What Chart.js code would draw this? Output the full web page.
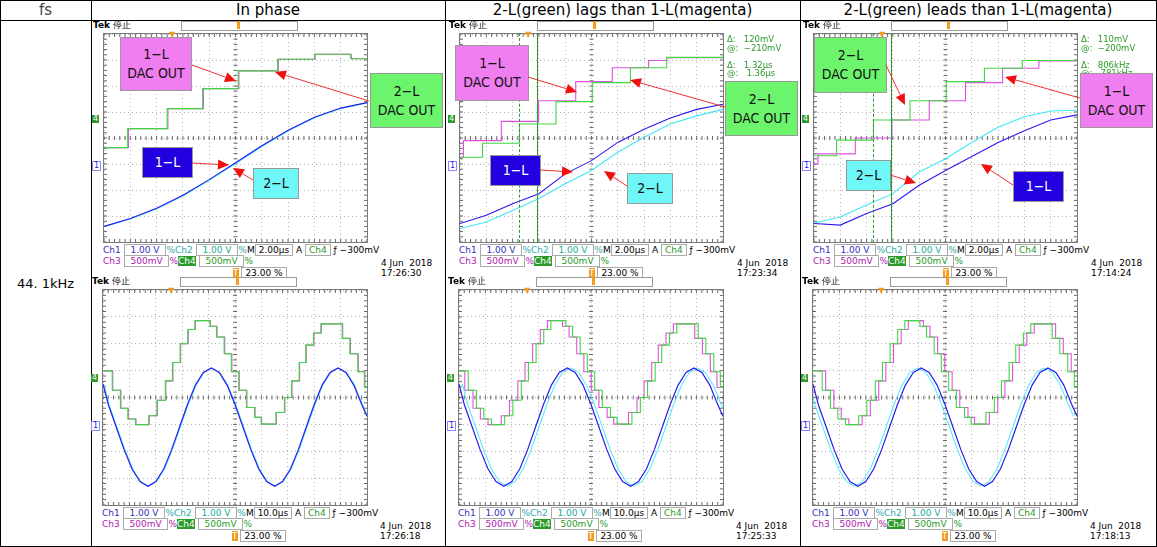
<!DOCTYPE html>
<html>
<head>
<meta charset="utf-8">
<script src="https://cdn.jsdelivr.net/npm/chart.js@4.4.1/dist/chart.umd.min.js"></script>
<style>
  body { margin: 0; background: #fff; font-family: "DejaVu Sans", sans-serif; }
  #page { position: relative; width: 1157px; height: 547px; overflow: hidden; }
  .t { position: absolute; white-space: pre; line-height: 1; }
  .ln { position: absolute; background: #000; }
  .frame { position: absolute; border: 1px solid #7a7a7a; box-sizing: border-box; }
  .lbl { position: absolute; border: 1px solid #999; box-sizing: border-box; display: flex;
         align-items: center; justify-content: center; text-align: center; font-size: 14px; line-height: 1.35; color: #111;
         font-family: "DejaVu Sans Condensed", "DejaVu Sans", sans-serif; }
  .ro { position: absolute; font-size: 9px; white-space: pre; line-height: 1; }
  .box { border: 1px solid #aaa; padding: 0 3px; }
</style>
</head>
<body>
<div id="page"></div>
<script>
// grid divisions: x 0..10, y -4..4
const divX = [0, 1, 2, 3, 4, 5, 6, 7, 8, 9, 10];

// top row, 2.00us/div
const phaseStepX = [0, 0.9, 2.4, 3.75, 5.1, 6.6, 8.0, 9.37, 10];
const phaseStepY = [-0.37, 0.36, 1.13, 1.9, 2.58, 3.03, 3.22, 3.05, 3.05];
const phaseBlueY = [-3.4, -3.1, -2.7, -2.2, -1.6, -0.95, -0.3, 0.3, 0.8, 1.15, 1.36];

const lagMagX = [0, 0.13, 1.57, 2.99, 4.4, 5.79, 7.17, 7.86, 10];
const lagMagY = [-0.74, -0.1, 0.64, 1.43, 2.17, 2.7, 2.98, 3.09, 3.09];
const lagGrnX = [0, 0.86, 2.26, 3.65, 5.03, 6.48, 7.86, 10];
const lagGrnY = [-0.74, -0.2, 0.54, 1.4, 2.13, 2.7, 3.1, 3.1];
const lagBlueY = [-3.29, -2.97, -2.53, -2.14, -1.38, -0.87, -0.17, 0.34, 0.77, 1.1, 1.3];
const lagCyanY = [-3.48, -3.23, -2.79, -2.33, -1.76, -1.25, -0.55, 0.03, 0.54, 0.85, 1.1];

const leadGrnX = [0, 0.86, 2.26, 3.65, 5.03, 6.48, 7.92, 10];
const leadGrnY = [-0.68, -0.08, 0.69, 1.43, 2.17, 2.68, 2.98, 2.98];
const leadMagX = [0, 0.15, 1.57, 2.96, 4.38, 5.76, 7.17, 8.55, 10];
const leadMagY = [-1.0, -0.61, 0, 0.69, 1.43, 2.13, 2.68, 2.96, 2.96];
const leadBlueY = [-3.29, -3.35, -2.9, -2.53, -1.82, -1.25, -0.71, -0.17, 0.28, 0.69, 0.89];
const leadCyanY = [-3.27, -3.04, -2.58, -2.14, -1.31, -0.8, -0.17, 0.41, 0.82, 1.04, 1.07];

// bottom row, 10.0us/div
const sineX = [0, 0.2, 0.5, 0.8, 1.1, 1.4, 1.7, 2.0, 2.3, 2.6, 2.9, 3.2, 3.5, 3.8, 4.1, 4.4, 4.7, 5.0,
  5.3, 5.6, 5.9, 6.2, 6.5, 6.8, 7.1, 7.4, 7.7, 8.0, 8.3, 8.6, 8.9, 9.2, 9.5, 9.8, 10];
const sineY = [0.5, -0.26, -1.1, -1.94, -2.66, -3.13, -3.3, -3.13, -2.66, -1.94, -1.1, -0.26, 0.46, 0.93, 1.1, 0.93, 0.46,
  -0.26, -1.1, -1.94, -2.66, -3.13, -3.3, -3.13, -2.66, -1.94, -1.1, -0.26, 0.46, 0.93, 1.1, 0.93, 0.46, -0.26, -0.7];
const dacX = [0, 0.35, 0.66, 0.94, 1.23, 1.73, 2.04, 2.36, 2.63, 2.92, 3.21, 3.48, 4.05, 4.3, 4.59, 4.86,
  5.14, 5.43, 5.74, 5.99, 6.55, 6.87, 7.14, 7.43, 7.68, 7.97, 8.25, 9.06, 9.35, 9.65, 9.9, 10];
const dacY = [0.99, 0.27, -0.4, -0.8, -1.01, -0.68, -0.1, 0.62, 1.3, 2.0, 2.53, 2.86, 2.65, 2.25, 1.63, 0.96,
  0.27, -0.37, -0.74, -0.99, -0.56, 0, 0.62, 1.3, 1.95, 2.4, 2.74, 2.2, 1.63, 0.96, 0.37, 0.37];
// measured phase offsets in divisions (bottom row): [magenta, cyan] relative to green/blue
const lagOffsets = [[0.02, 0.03], [-0.13, 0.13], [0.13, -0.13]];

const BLUE = '#2a1af0', CYAN = '#40e8f2', GREEN = '#40d840', MAG = '#e050e0';
const page = document.getElementById('page');

function el(cls, x, y, html, style) {
  const d = document.createElement('div');
  d.className = cls;
  d.style.left = x + 'px'; d.style.top = y + 'px';
  d.innerHTML = html;
  if (style) Object.assign(d.style, style);
  page.appendChild(d);
  return d;
}
function pts(xs, ys, dx) {
  return xs.map((x, i) => ({ x: x + (dx || 0), y: ys[i] }));
}
function line(data, color, stepped, width) {
  return { data: data, borderColor: color, borderWidth: width || 1.1, pointRadius: 0,
           stepped: stepped ? 'before' : false, tension: 0 };
}

const crossPlugin = {
  id: 'cross',
  beforeDatasetsDraw(chart) {
    const { ctx, chartArea: a, scales } = chart;
    const cx = scales.x.getPixelForValue(5), cy = scales.y.getPixelForValue(0);
    ctx.save();
    ctx.strokeStyle = '#666';
    ctx.lineWidth = 1;
    ctx.beginPath();
    for (let v = 0; v <= 10.001; v += 0.2) {
      const px = scales.x.getPixelForValue(v);
      ctx.moveTo(px, cy - 2); ctx.lineTo(px, cy + 2);
      ctx.moveTo(px, a.top); ctx.lineTo(px, a.top + 3);
      ctx.moveTo(px, a.bottom); ctx.lineTo(px, a.bottom - 3);
    }
    for (let v = -4; v <= 4.001; v += 0.2) {
      const py = scales.y.getPixelForValue(v);
      ctx.moveTo(cx - 2, py); ctx.lineTo(cx + 2, py);
      ctx.moveTo(a.left, py); ctx.lineTo(a.left + 3, py);
      ctx.moveTo(a.right, py); ctx.lineTo(a.right - 3, py);
    }
    ctx.stroke();
    ctx.restore();
  }
};

// datasets are listed top-most first (Chart.js paints index 0 last)
function scope(left, top, w, h, datasets, timebase, stamp, cursors) {
  const fr = el('frame', left, top, '', { width: w + 'px', height: h + 'px' });
  const cv = document.createElement('canvas');
  cv.width = w - 2; cv.height = h - 2;
  fr.appendChild(cv);
  const gridOpts = { color: '#b5b5b5', drawTicks: false, lineWidth: 1 };
  new Chart(cv, {
    type: 'line',
    data: { datasets: datasets },
    options: {
      responsive: false, animation: false, maintainAspectRatio: false,
      layout: { padding: 0 },
      plugins: { legend: { display: false }, tooltip: { enabled: false } },
      scales: {
        x: { type: 'linear', min: 0, max: 10, ticks: { display: false, stepSize: 1 }, grid: gridOpts,
             border: { display: false, dash: [1, 3] } },
        y: { type: 'linear', min: -4, max: 4, ticks: { display: false, stepSize: 1 }, grid: gridOpts,
             border: { display: false, dash: [1, 3] } }
      }
    },
    plugins: [crossPlugin]
  });
  if (cursors) {
    cursors.forEach(c => {
      el('ln', left + c.x * w / 10, top, '', { width: '1px', height: h + 'px', background: 'none',
        borderLeft: '1px ' + (c.dashed ? 'dashed' : 'solid') + ' #2a9a2a' });
    });
  }
  // chrome around the screen
  el('t', left - 10, top - 12, '<b>Tek</b> 停止', { fontSize: '9px' });
  el('t', left + 78, top - 12, '', { width: '115px', height: '8px', border: '1px solid #999',
    background: 'linear-gradient(#fff 45%, #4c4 45%, #4c4 55%, #fff 55%)' });
  el('t', left + 134, top - 12, '', { width: '3px', height: '8px', background: '#f39a1f' });
  el('t', left + 66, top - 2, '▼', { fontSize: '8px', color: '#f39a1f' });
  el('t', left - 11, top + h * 0.39, '4', { fontSize: '8px', color: '#fff', background: '#2a9a2a', padding: '0 1px' });
  el('t', left - 11, top + h * 0.61, '1', { fontSize: '8px', color: BLUE, border: '1px solid #88f', padding: '0 1px' });
  const L = left, B = top + h;
  el('ro', L, B + 3, '<span style="color:#3030c0">Ch1</span> <span class="box" style="color:#3030c0"> 1.00 V </span>' +
    '<span style="color:#3aa">%Ch2</span> <span class="box" style="color:#2a9"> 1.00 V </span>' +
    '<span style="color:#3aa">%</span>M<span class="box">' + timebase + '</span> A <span class="box" style="color:#2a9a2a">Ch4</span> ƒ −300mV');
  el('ro', L, B + 14, '<span style="color:#b020b0">Ch3</span> <span class="box" style="color:#b020b0"> 500mV </span>' +
    '<span style="color:#b020b0">%</span><span style="background:#2a9a2a;color:#fff">Ch4</span> <span class="box" style="color:#2a9a2a"> 500mV </span><span style="color:#2a9a2a">%</span>');
  el('ro', L + 130, B + 26, '<span style="background:#f39a1f;color:#fff">T</span> <span class="box">23.00 %</span>');
  el('ro', L + 278, B + 15, '4 Jun  2018\n' + stamp, { lineHeight: '10px' });
}

function label(x, y, w, h, text, bg, fg) {
  el('lbl', x, y, text, { width: w + 'px', height: h + 'px', background: bg, color: fg || '#111' });
}
function readout(x, y, lines) {
  el('ro', x, y, lines.join('\n'), { color: '#2a9a2a', lineHeight: '8.5px', fontSize: '8.5px' });
}

// ---- table grid ----
[[0, 0, 1157, 1], [0, 20, 1157, 1], [0, 546, 1157, 1], [0, 0, 1, 547], [91, 0, 1, 547],
 [445, 0, 1, 547], [800, 0, 1, 547], [1156, 0, 1, 547]].forEach(r =>
  el('ln', r[0], r[1], '', { width: r[2] + 'px', height: r[3] + 'px' }));
el('t', 91, 3, 'In phase', { width: '354px', textAlign: 'center', fontSize: '15px' });
el('t', 445, 3, '2-L(green) lags than 1-L(magenta)', { width: '355px', textAlign: 'center', fontSize: '15px' });
el('t', 800, 3, '2-L(green) leads than 1-L(magenta)', { width: '356px', textAlign: 'center', fontSize: '15px' });
el('t', 0, 3, 'fs', { width: '91px', textAlign: 'center', fontSize: '15px', color: '#444' });
el('t', 0, 277, '44. 1kHz', { width: '91px', textAlign: 'center', fontSize: '13px' });

// ---- top row ----
scope(103, 33, 265, 210, [
  line(pts(divX, phaseBlueY), BLUE),
  line(pts(divX, phaseBlueY, 0.05), CYAN),
  line(pts(phaseStepX, phaseStepY), GREEN, true),
  line(pts(phaseStepX, phaseStepY, 0.03), MAG, true)
], '2.00µs', '17:26:30');
scope(459, 33, 265, 210, [
  line(pts(divX, lagBlueY), BLUE),
  line(pts(divX, lagCyanY), CYAN),
  line(pts(lagGrnX, lagGrnY), GREEN, true),
  line(pts(lagMagX, lagMagY), MAG, true)
], '2.00µs', '17:23:34', [{ x: 2.26, dashed: true }, { x: 2.96 }]);
scope(813, 33, 265, 210, [
  line(pts(divX, leadBlueY), BLUE),
  line(pts(divX, leadCyanY), CYAN),
  line(pts(leadGrnX, leadGrnY), GREEN, true),
  line(pts(leadMagX, leadMagY), MAG, true)
], '2.00µs', '17:14:24', [{ x: 2.26, dashed: true }, { x: 2.96 }]);

// ---- bottom row ----
[102, 458, 812].forEach((left, i) => {
  const off = lagOffsets[i];
  scope(left, 289, 266, 217, [
    line(pts(sineX, sineY), BLUE, false, 1.2),
    line(pts(sineX, sineY, off[1]), CYAN, false, 1),
    line(pts(dacX, dacY), GREEN, true),
    line(pts(dacX, dacY, off[0]), MAG, true)
  ], '10.0µs', ['17:26:18', '17:25:33', '17:18:13'][i]);
});

readout(727, 35, ['Δ:   120mV', '@:  −210mV', '', 'Δ:   1.32µs', '@:   1.36µs']);
readout(1081, 35, ['Δ:   110mV', '@:  −200mV', '', 'Δ:   806kHz', '@:   781kHz']);

// ---- annotation boxes ----
label(120, 37, 72, 54, '1−L<br>DAC OUT', '#f07ef0');
label(370, 73, 73, 55, '2−L<br>DAC OUT', '#6cf56c');
label(142, 147, 51, 31, '1−L', '#2200e0', '#fff');
label(253, 168, 46, 31, '2−L', '#6ff6f6');
label(455, 45, 74, 56, '1−L<br>DAC OUT', '#f07ef0');
label(725, 81, 73, 55, '2−L<br>DAC OUT', '#6cf56c');
label(490, 155, 51, 31, '1−L', '#2200e0', '#fff');
label(627, 173, 46, 31, '2−L', '#6ff6f6');
label(814, 37, 73, 56, '2−L<br>DAC OUT', '#6cf56c');
label(1080, 73, 73, 55, '1−L<br>DAC OUT', '#f07ef0');
label(846, 160, 45, 31, '2−L', '#6ff6f6');
label(1013, 171, 51, 31, '1−L', '#2200e0', '#fff');

// ---- arrows ----
const arrows = [
  [192, 65, 236, 81], [369, 101, 275, 72], [192, 163, 229, 165], [253, 180, 233, 168],
  [528, 77, 577, 92], [725, 107, 630, 80], [540, 170, 573, 172], [627, 186, 604, 171],
  [886, 65, 905, 105], [1080, 98, 1005, 77], [890, 175, 916, 183], [1013, 185, 981, 164]
];
const svgNS = 'http://www.w3.org/2000/svg';
const svg = document.createElementNS(svgNS, 'svg');
svg.setAttribute('width', 1157); svg.setAttribute('height', 547);
svg.style.position = 'absolute'; svg.style.left = '0'; svg.style.top = '0';
arrows.forEach(a => {
  const [x1, y1, x2, y2] = a;
  const ang = Math.atan2(y2 - y1, x2 - x1), len = 11, wid = 5;
  const bx = x2 - len * Math.cos(ang), by = y2 - len * Math.sin(ang);
  const l = document.createElementNS(svgNS, 'line');
  l.setAttribute('x1', x1); l.setAttribute('y1', y1); l.setAttribute('x2', bx); l.setAttribute('y2', by);
  l.setAttribute('stroke', '#f03030'); l.setAttribute('stroke-width', '1');
  svg.appendChild(l);
  const p = document.createElementNS(svgNS, 'polygon');
  const px = -Math.sin(ang) * wid, py = Math.cos(ang) * wid;
  p.setAttribute('points', `${x2},${y2} ${bx + px},${by + py} ${bx - px},${by - py}`);
  p.setAttribute('fill', '#f01010');
  svg.appendChild(p);
});
page.appendChild(svg);
</script>
</body>
</html>
